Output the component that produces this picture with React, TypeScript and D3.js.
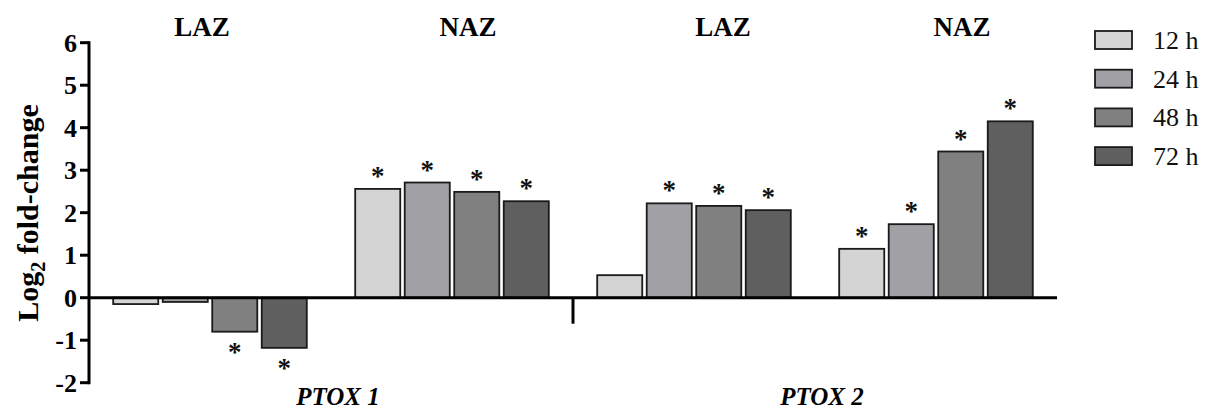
import React from "react";
import * as d3 from "d3";

// Genes, zones and time points
const genes = ["PTOX 1", "PTOX 2"];
const groups = ["PTOX 1 LAZ", "PTOX 1 NAZ", "PTOX 2 LAZ", "PTOX 2 NAZ"];
const groupZone = ["LAZ", "NAZ", "LAZ", "NAZ"];
const times = ["12 h", "24 h", "48 h", "72 h"];

// Log2 fold-change per time point, one value per group
const h12 = [-0.15, 2.56, 0.53, 1.15];
const h24 = [-0.1, 2.71, 2.22, 1.73];
const h48 = [-0.8, 2.49, 2.16, 3.44];
const h72 = [-1.18, 2.27, 2.06, 4.15];

// Significance markers (asterisks) per time point, one flag per group
const sig12 = [false, true, false, true];
const sig24 = [false, true, true, true];
const sig48 = [true, true, true, true];
const sig72 = [true, true, true, true];

const yTicks = [-2, -1, 0, 1, 2, 3, 4, 5, 6];

const series = [h12, h24, h48, h72];
const sigs = [sig12, sig24, sig48, sig72];
const fills = ["#d4d4d4", "#a1a1a5", "#808080", "#5f5f5f"];

const W = 1208;
const H = 412;
const FONT = "'Liberation Serif', 'Times New Roman', serif";

export default function App() {
  const y = d3.scaleLinear().domain([-2, 6]).range([382.7, 42.7]);
  const x0 = d3
    .scaleBand<string>()
    .domain(groups)
    .range([89, 1057])
    .paddingInner(0.2)
    .paddingOuter(0.1);
  const x1 = d3
    .scaleBand<string>()
    .domain(times)
    .range([0, x0.bandwidth()])
    .paddingInner(0.09);

  const y0 = y(0);
  const titleShift = [-8, 16, 29, 26];
  const dividerX = (x0(groups[1])! + x0.bandwidth() + x0(groups[2])!) / 2;
  const geneCenters = [
    (89 + dividerX) / 2 + 7,
    (dividerX + 1057) / 2 + 7,
  ];

  return (
    <svg
      width={W}
      height={H}
      style={{ position: "absolute", left: 0, top: 0, background: "#fff" }}
      fontFamily={FONT}
    >
      {/* bars */}
      {groups.map((g, gi) =>
        times.map((t, ti) => {
          const v = series[ti][gi];
          const bx = x0(g)! + x1(t)!;
          const top = y(Math.max(0, v));
          const bottom = y(Math.min(0, v));
          return (
            <rect
              key={g + t}
              x={bx}
              y={top}
              width={x1.bandwidth()}
              height={bottom - top}
              fill={fills[ti]}
              stroke="#1a1a1a"
              strokeWidth={1.8}
            />
          );
        })
      )}

      {/* asterisks */}
      {groups.map((g, gi) =>
        times.map((t, ti) => {
          if (!sigs[ti][gi]) return null;
          const v = series[ti][gi];
          const cx = x0(g)! + x1(t)! + x1.bandwidth() / 2;
          const ty = v >= 0 ? y(v) - 4 : y(v) + 29;
          return (
            <text
              key={"s" + g + t}
              x={cx}
              y={ty}
              textAnchor="middle"
              fontSize={27}
              fontWeight="bold"
              fill="#111"
            >
              *
            </text>
          );
        })
      )}

      {/* zero line and divider */}
      <line x1={89} x2={1057} y1={y0} y2={y0} stroke="#000" strokeWidth={3} />
      <line
        x1={dividerX}
        x2={dividerX}
        y1={y0}
        y2={y0 + 26}
        stroke="#000"
        strokeWidth={3}
      />

      {/* y axis */}
      <line
        x1={89}
        x2={89}
        y1={y(-2) + 1.5}
        y2={y(6) - 1.5}
        stroke="#000"
        strokeWidth={3}
      />
      {yTicks.map((t) => (
        <g key={t}>
          <line
            x1={80}
            x2={89}
            y1={y(t)}
            y2={y(t)}
            stroke="#000"
            strokeWidth={3}
          />
          <text
            x={77}
            y={y(t) + 9}
            textAnchor="end"
            fontSize={26}
            fontWeight="bold"
            fill="#000"
          >
            {t}
          </text>
        </g>
      ))}
      <text
        transform={`translate(38,213) rotate(-90)`}
        textAnchor="middle"
        fontSize={30}
        fontWeight="bold"
        fill="#000"
      >
        Log
        <tspan fontSize={20} dy={7}>
          2
        </tspan>
        <tspan dy={-7}> fold-change</tspan>
      </text>

      {/* zone titles */}
      {groups.map((g, gi) => (
        <text
          key={"t" + g}
          x={x0(g)! + x0.bandwidth() / 2 + titleShift[gi]}
          y={36}
          textAnchor="middle"
          fontSize={27}
          fontWeight="bold"
          fill="#000"
        >
          {groupZone[gi]}
        </text>
      ))}

      {/* gene labels */}
      {genes.map((gname, i) => (
        <text
          key={gname}
          x={geneCenters[i]}
          y={405}
          textAnchor="middle"
          fontSize={25}
          fontWeight="bold"
          fontStyle="italic"
          fill="#000"
        >
          {gname}
        </text>
      ))}

      {/* legend */}
      {times.map((t, i) => (
        <g key={"l" + t} transform={`translate(1095,${31 + i * 38.7})`}>
          <rect
            width={37}
            height={18}
            fill={fills[i]}
            stroke="#1a1a1a"
            strokeWidth={1.8}
          />
          <text x={58} y={18} fontSize={26} fill="#111">
            {t}
          </text>
        </g>
      ))}
    </svg>
  );
}
